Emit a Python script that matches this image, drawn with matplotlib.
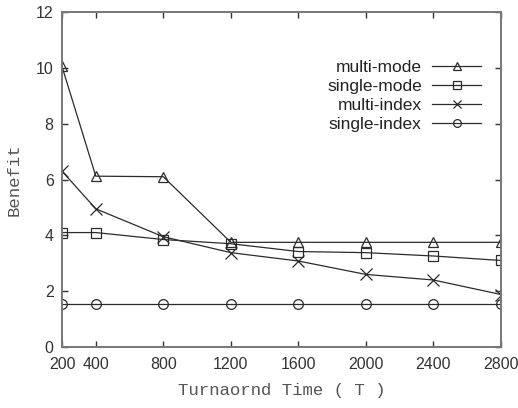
import matplotlib
matplotlib.use("Agg")
import matplotlib.pyplot as plt

# Turnaround times and benefit of each scheme
turnaround = [200, 400, 800, 1200, 1600, 2000, 2400, 2800]
multi_mode = [10.05, 6.12, 6.1, 3.75, 3.75, 3.75, 3.75, 3.75]
single_mode = [4.1, 4.1, 3.85, 3.7, 3.42, 3.38, 3.26, 3.1]
multi_index = [6.3, 4.95, 3.95, 3.38, 3.08, 2.6, 2.4, 1.88]
single_index = [1.55, 1.55, 1.55, 1.55, 1.55, 1.55, 1.55, 1.55]

x_ticks = [200, 400, 800, 1200, 1600, 2000, 2400, 2800]
y_ticks = [0, 2, 4, 6, 8, 10, 12]

series = [
    ("multi-mode", multi_mode, "^"),
    ("single-mode", single_mode, "s"),
    ("multi-index", multi_index, "x"),
    ("single-index", single_index, "o"),
]

plt.rcParams["font.family"] = ["Liberation Sans", "DejaVu Sans"]

fig = plt.figure(figsize=(5.18, 4.08), dpi=100)
ax = fig.add_axes([0.1197, 0.1495, 0.8475, 0.821])

line_color = "#2b2b2b"
for label, values, marker in series:
    ax.plot(turnaround, values, color=line_color, linewidth=0.9,
            marker=marker, markersize=7 if marker != "x" else 8,
            markerfacecolor="none", markeredgecolor=line_color,
            markeredgewidth=0.9, label=label)

ax.set_xlim(200, 2800)
ax.set_ylim(0, 12)
ax.set_xticks(x_ticks)
ax.set_yticks(y_ticks)
ax.tick_params(direction="in", length=4.5, width=1.0, colors="#333333",
               labelsize=11.5, top=True, right=True, pad=6)
ax.tick_params(axis="x", pad=7)

for spine in ax.spines.values():
    spine.set_color("#777777")
    spine.set_linewidth(1.4)

ax.set_xlabel("Turnaornd Time ( T )", family="Liberation Mono",
              fontsize=12.5, color="#555555", labelpad=8)
ax.set_ylabel("Benefit", family="Liberation Mono", fontsize=12.5,
              color="#555555", labelpad=10)

leg = ax.legend(loc="upper right", bbox_to_anchor=(0.954, 0.858),
                frameon=False, markerfirst=False, fontsize=12.5,
                markerscale=0.8, handlelength=2.8, handletextpad=0.6,
                labelspacing=0.22, borderpad=0, borderaxespad=0)

# labels sit to the left of the sample lines, right-aligned
for col in leg._legend_handle_box.get_children():
    col.align = "right"
for t in leg.get_texts():
    t.set_color("#222222")

fig.savefig("out.png", dpi=100)
